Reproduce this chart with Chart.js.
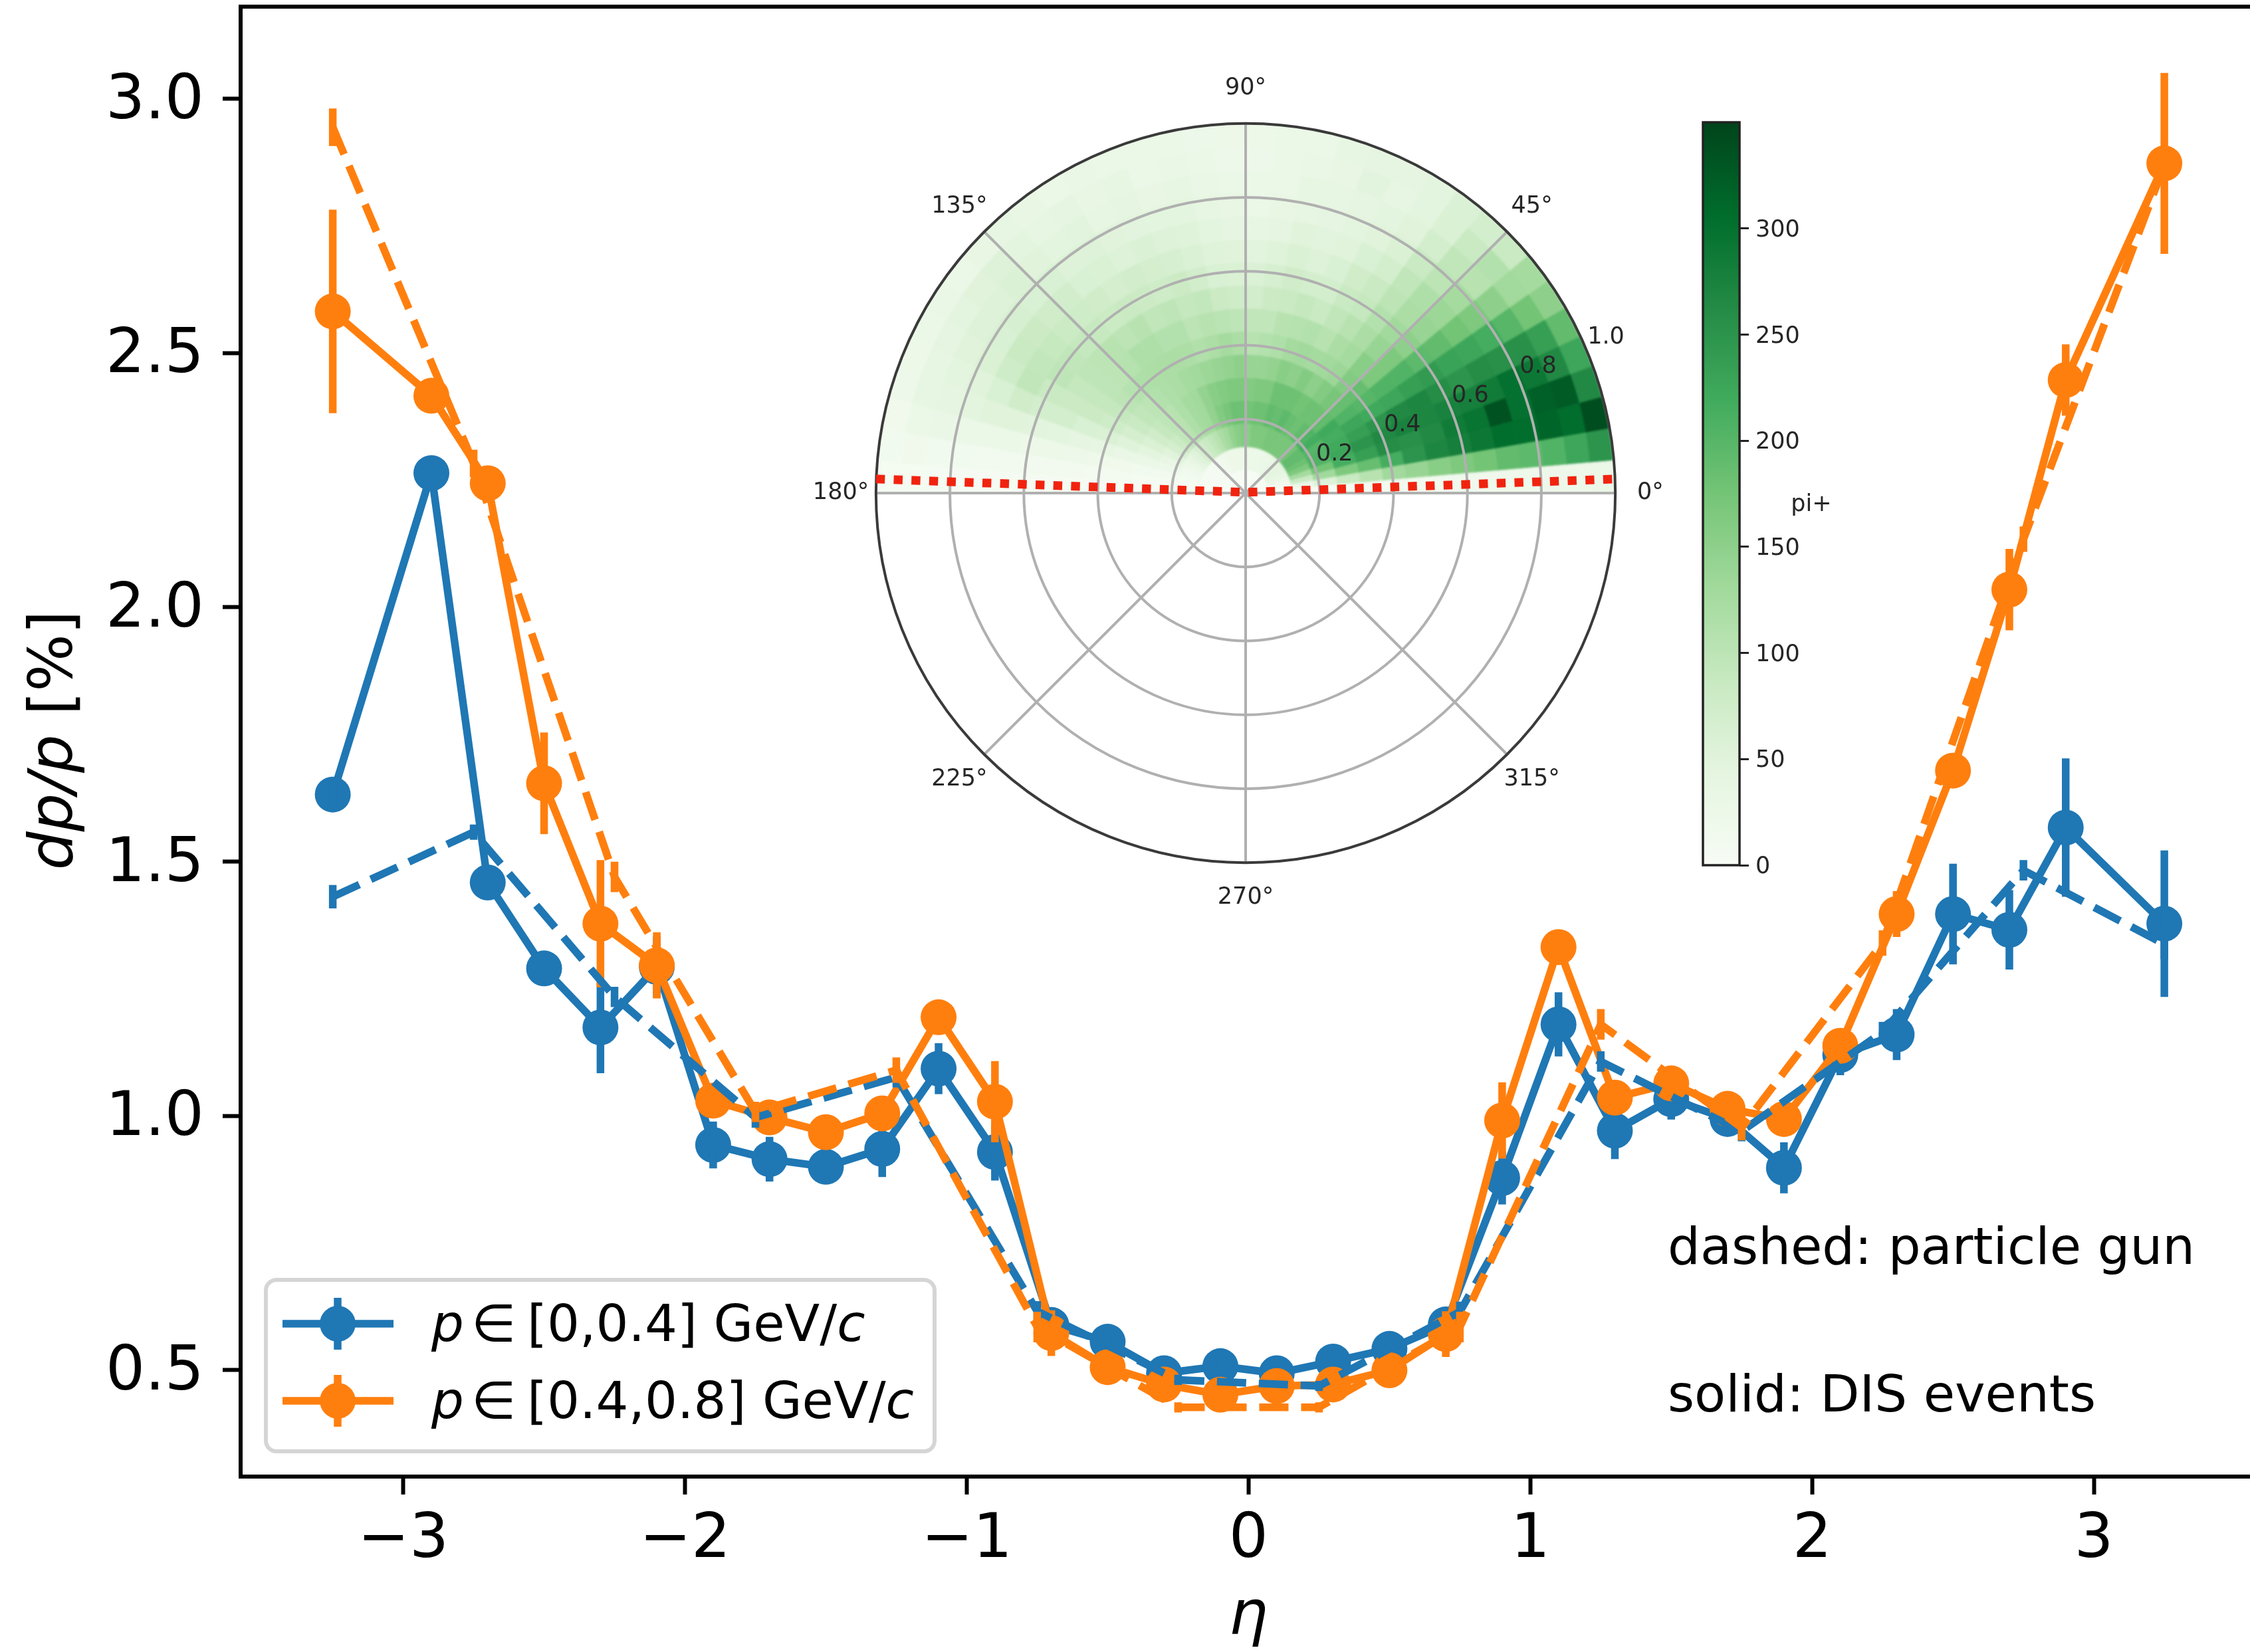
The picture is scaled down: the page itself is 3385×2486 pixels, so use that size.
<!DOCTYPE html>
<html>
<head>
<meta charset="utf-8">
<title>dp/p vs eta</title>
<script src="https://cdn.jsdelivr.net/npm/chart.js@4"></script>
<style>
html,body{margin:0;padding:0;background:#fff;overflow:hidden;width:3385px;height:2486px}
canvas{position:absolute;display:block}
#main{left:0;top:0}
#heat{left:1318px;top:186px;filter:blur(1.5px)}
#polar{left:1151px;top:19px;filter:blur(.7px)}
#cbar{left:2540px;top:160px;filter:blur(.7px)}
</style>
</head>
<body>
<canvas id="main" width="3385" height="2486"></canvas>
<canvas id="heat" width="1112" height="556"></canvas>
<canvas id="polar" width="1446" height="1446"></canvas>
<canvas id="cbar" width="300" height="1170"></canvas>
<script>
// ---------- main plot data ----------
const etaSolid = [-3.25,-2.9,-2.7,-2.5,-2.3,-2.1,-1.9,-1.7,-1.5,-1.3,-1.1,-0.9,-0.7,-0.5,-0.3,-0.1,0.1,0.3,0.5,0.7,0.9,1.1,1.3,1.5,1.7,1.9,2.1,2.3,2.5,2.7,2.9,3.25];
const blueSolid = [1.632,2.264,1.459,1.29,1.174,1.293,0.943,0.915,0.90,0.935,1.093,0.929,0.589,0.556,0.494,0.508,0.494,0.517,0.542,0.59,0.878,1.18,0.971,1.033,0.994,0.898,1.12,1.16,1.397,1.366,1.567,1.378];
const blueSolidErr = [0.03,0.02,0.03,0.03,0.09,0.06,0.046,0.044,0.03,0.055,0.05,0.056,0.03,0.02,0.015,0.015,0.015,0.015,0.02,0.03,0.052,0.063,0.056,0.04,0.03,0.05,0.04,0.05,0.099,0.078,0.136,0.144];
const orangeSolid = [2.582,2.416,2.244,1.654,1.378,1.296,1.03,0.997,0.968,1.005,1.194,1.028,0.573,0.506,0.472,0.452,0.469,0.472,0.50,0.571,0.991,1.332,1.036,1.064,1.014,0.994,1.138,1.397,1.679,2.035,2.447,2.873];
const orangeSolidErr = [0.2,0.02,0.03,0.1,0.125,0.065,0.03,0.03,0.03,0.03,0.03,0.08,0.045,0.02,0.015,0.015,0.015,0.015,0.02,0.045,0.075,0.02,0.03,0.03,0.02,0.02,0.03,0.045,0.03,0.08,0.07,0.178];
const etaDashed = [-3.25,-2.75,-2.25,-1.75,-1.25,-0.75,-0.25,0.25,0.75,1.25,1.75,2.25,2.75,3.25];
const blueDashed = [1.431,1.558,1.234,0.997,1.076,0.616,0.481,0.469,0.615,1.107,0.97,1.165,1.483,1.338];
const blueDashedErr = [0.023,0.015,0.02,0.02,0.02,0.02,0.01,0.01,0.02,0.02,0.02,0.02,0.02,0.03];
const orangeDashed = [2.944,2.283,1.47,1.008,1.09,0.585,0.427,0.427,0.585,1.18,0.977,1.34,2.134,2.87];
const orangeDashedErr = [0.037,0.027,0.03,0.02,0.025,0.03,0.01,0.01,0.03,0.03,0.025,0.025,0.025,0.03];
const xTickValues = [-3,-2,-1,0,1,2,3];
const yTickValues = [0.5,1.0,1.5,2.0,2.5,3.0];

// ---------- inset polar histogram: rows run from the outer ring to the centre,
// each row holds 36 sectors of equal width from 0 deg to 180 deg ----------
const sectorDegrees = 5;
const ringCounts = [
[30,250,340,265,225,190,150,125,85,70,58,45,42,42,40,30,28,25, 24,26,28,28,30,32,30,35,38,35,30,32,28,25,22,18,14,8],
[25,225,305,325,265,235,175,130,110,85,60,45,40,48,35,32,28,22, 22,28,32,28,38,35,42,38,45,55,50,45,42,38,38,28,18,8],
[22,205,315,320,290,255,200,150,105,95,70,50,45,42,40,38,30,28, 28,32,40,35,42,40,48,45,50,58,55,55,50,45,42,32,15,7],
[20,195,305,300,300,255,215,165,125,100,85,60,50,45,42,40,35,30, 35,38,45,45,48,50,55,55,62,62,65,62,60,50,45,30,14,6],
[20,190,305,335,285,260,225,175,135,115,95,70,62,50,48,50,42,38, 42,45,52,55,58,55,60,62,72,75,80,85,78,62,50,30,12,6],
[18,175,290,295,280,250,230,190,140,120,100,85,75,62,55,60,52,48, 50,52,58,65,68,72,68,75,78,82,88,92,95,75,50,28,12,6],
[16,165,280,285,275,260,240,195,150,130,110,90,85,70,70,75,65,58, 60,62,72,80,78,80,85,82,88,90,95,98,85,70,48,25,12,6],
[15,155,270,265,270,270,235,205,165,140,120,105,95,85,90,85,80,72, 78,80,92,90,98,95,105,100,105,100,98,90,80,70,45,25,12,6],
[14,140,250,255,275,265,225,205,165,155,125,120,105,110,108,105,95,95, 98,102,105,100,110,110,115,115,108,100,98,90,80,62,42,22,12,6],
[12,130,215,260,265,250,220,200,185,160,135,130,125,130,125,115,110,105, 120,125,118,112,118,120,120,118,115,108,100,90,78,60,38,20,10,5],
[10,105,185,235,250,235,225,205,185,170,160,150,160,150,155,145,140,140, 150,145,140,135,130,125,120,115,110,100,95,85,68,52,32,18,10,5],
[8,85,165,215,225,220,215,220,190,180,180,175,180,180,180,165,165,160, 165,165,160,155,145,130,125,115,105,98,90,75,60,45,28,15,8,5],
[6,55,130,175,205,205,200,215,205,190,180,185,195,185,190,180,180,175, 180,180,170,160,145,130,125,115,105,95,82,68,50,35,22,12,7,4],
[5,28,80,125,165,180,190,190,175,170,170,170,170,170,165,165,165,155, 160,155,145,130,120,105,95,85,75,65,52,42,30,20,14,8,5,4],
[3,6,12,22,32,38,42,45,42,35,30,28,28,26,26,25,25,25, 25,25,25,25,24,22,18,15,12,10,8,6,5,4,4,3,3,3],
[2,2,3,3,3,3,3,3,3,3,3,3,3,3,3,3,3,3, 3,3,3,3,3,3,3,3,3,3,3,3,3,3,3,2,2,2]
];
const countMax = 350;
const colorbarTicks = [0,50,100,150,200,250,300];
const greens = ['#f7fcf5','#e5f5e0','#c7e9c0','#a1d99b','#74c476','#41ab5d','#238b45','#006d2c','#00441b'];
const radialTicks = [0.2,0.4,0.6,0.8,1.0];
const angleTicks = [0,45,90,135,180,225,270,315];
const guideX = [-1,0,1];
const guideY = [0.038,0.002,0.038];

const FONT = '"DejaVu Sans"';
const BLUE = '#1f77b4', ORANGE = '#ff7f0e';
Chart.defaults.font.family = FONT;
Chart.defaults.animation = false;

// helpers
function points(xs, ys){ return xs.map((x,i)=>({x, y:ys[i]})); }
function errorSegments(xs, ys, es){
  const out = [];
  xs.forEach((x,i)=>{ out.push({x,y:ys[i]-es[i]},{x,y:ys[i]+es[i]},{x,y:null}); });
  return out;
}
function hex(c){ return [1,3,5].map(i=>parseInt(c.substr(i,2),16)); }
function greenColor(v){
  const t = Math.max(0,Math.min(1,v/countMax))*(greens.length-1);
  const i = Math.min(greens.length-2,Math.floor(t)), f = t-i;
  const a = hex(greens[i]), b = hex(greens[i+1]);
  return 'rgb('+a.map((q,k)=>Math.round(q+(b[k]-q)*f)).join(',')+')';
}
function drawRuns(ctx, runs, x, y, size, align){
  let total = 0;
  const fonts = runs.map(r=>(r[1]?'italic ':'')+size+'px '+FONT);
  runs.forEach((r,i)=>{ ctx.font = fonts[i]; total += ctx.measureText(r[0]).width; });
  let cx = align==='center' ? x-total/2 : x;
  ctx.textAlign='left'; ctx.textBaseline='alphabetic'; ctx.fillStyle='#000';
  runs.forEach((r,i)=>{ ctx.font = fonts[i]; ctx.fillText(r[0],cx,y); cx += ctx.measureText(r[0]).width; });
}

// ---------- main chart ----------
let seq = 0;
function lineSet(data, color, dashed, radius){
  seq++;
  return {data, showLine:true, borderColor:color, backgroundColor:color, borderWidth:11.5,
    borderDash: dashed?[44,19]:[], pointRadius:radius, pointBorderWidth:0, pointHoverRadius:radius,
    tension:0, spanGaps:false, order:-seq, borderCapStyle:'butt'};
}
const mainSets = [
  lineSet(points(etaSolid,blueSolid),BLUE,false,27),
  lineSet(errorSegments(etaSolid,blueSolid,blueSolidErr),BLUE,false,0),
  lineSet(points(etaSolid,orangeSolid),ORANGE,false,27),
  lineSet(errorSegments(etaSolid,orangeSolid,orangeSolidErr),ORANGE,false,0),
  lineSet(points(etaDashed,blueDashed),BLUE,true,0),
  lineSet(errorSegments(etaDashed,blueDashed,blueDashedErr),BLUE,false,0),
  lineSet(points(etaDashed,orangeDashed),ORANGE,true,0),
  lineSet(errorSegments(etaDashed,orangeDashed,orangeDashedErr),ORANGE,false,0)
];
const legendRows = [
  {color:BLUE, range:'[0,0.4] GeV/'},
  {color:ORANGE, range:'[0.4,0.8] GeV/'}
];
const mainDecor = {
  id:'mainDecor',
  afterDatasetsDraw(chart){
    const {ctx, chartArea:a} = chart;
    ctx.save();
    // top spine
    ctx.fillStyle='#000'; ctx.fillRect(a.left-3,a.top-3,a.right-a.left+3,6);
    // axis titles
    drawRuns(ctx,[['\u03b7',true]],1878,2459,93,'center');
    ctx.save(); ctx.translate(108,1114); ctx.rotate(-Math.PI/2);
    drawRuns(ctx,[['dp/p',true],[' [%]',false]],0,0,91,'center');
    ctx.restore();
    // notes
    ctx.font='77px '+FONT; ctx.fillStyle='#000'; ctx.textAlign='left'; ctx.textBaseline='alphabetic';
    ctx.fillText('dashed: particle gun',2509,1902);
    ctx.fillText('solid: DIS events',2509,2124);
    // legend
    ctx.lineWidth=6; ctx.strokeStyle='#d5d5d5'; ctx.fillStyle='rgba(255,255,255,.8)';
    ctx.beginPath(); ctx.roundRect(400,1926,1006,258,16); ctx.fill(); ctx.stroke();
    const rowsY=[1992,2108], base=[2018,2134];
    legendRows.forEach((row,i)=>{
      ctx.strokeStyle=row.color; ctx.fillStyle=row.color; ctx.lineWidth=11.5;
      ctx.beginPath(); ctx.moveTo(425,rowsY[i]); ctx.lineTo(592,rowsY[i]); ctx.stroke();
      ctx.beginPath(); ctx.moveTo(508,rowsY[i]-39); ctx.lineTo(508,rowsY[i]+39); ctx.stroke();
      ctx.beginPath(); ctx.arc(508,rowsY[i],27,0,Math.PI*2); ctx.fill();
      drawRuns(ctx,[['p',true]],649,base[i],77,'left');
      drawRuns(ctx,[['\u2208',false]],709,base[i],77,'left');
      drawRuns(ctx,[[row.range,false],['c',true]],793,base[i],77,'left');
    });
    ctx.restore();
  }
};
new Chart(document.getElementById('main'),{
  type:'scatter',
  data:{datasets:mainSets},
  plugins:[mainDecor],
  options:{
    responsive:false, events:[],
    layout:{autoPadding:false,padding:{left:0,right:0,top:10,bottom:0}},
    plugins:{legend:{display:false},tooltip:{enabled:false}},
    scales:{
      x:{type:'linear',min:-3.577,max:3.554,
        afterFit(s){s.height=264;s.paddingLeft=0;s.paddingRight=0;},
        afterBuildTicks(s){s.ticks=xTickValues.map(v=>({value:v}));},
        border:{display:true,color:'#000',width:6},
        grid:{drawOnChartArea:false,drawTicks:true,tickLength:27,tickWidth:6,tickColor:'#000'},
        ticks:{autoSkip:false,maxRotation:0,padding:14,color:'#000',font:{size:93},
          callback:v=>(v<0?'\u2212':'')+Math.abs(v)}},
      y:{type:'linear',min:0.2909,max:3.1812,
        afterFit(s){s.width=362;s.paddingTop=0;s.paddingBottom=0;},
        afterBuildTicks(s){s.ticks=yTickValues.map(v=>({value:v}));},
        border:{display:true,color:'#000',width:6},
        grid:{drawOnChartArea:false,drawTicks:true,tickLength:27,tickWidth:6,tickColor:'#000'},
        ticks:{autoSkip:false,padding:28,labelOffset:5,color:'#000',font:{size:93},
          callback:v=>v.toFixed(1)}}
    }
  }
});

// ---------- inset heat map: one doughnut ring per radial bin ----------
new Chart(document.getElementById('heat'),{
  type:'doughnut',
  data:{
    labels:ringCounts[0].map((_,i)=>String(i)),
    datasets:ringCounts.map(row=>{
      const colors = row.slice().reverse().map(greenColor);
      return {data:row.map(()=>sectorDegrees), backgroundColor:colors, borderColor:colors, borderWidth:1, hoverOffset:0};
    })
  },
  options:{
    responsive:false, events:[], cutout:0, rotation:-90, circumference:180,
    layout:{autoPadding:false,padding:0},
    plugins:{legend:{display:false},tooltip:{enabled:false}}
  }
});

// ---------- inset polar frame ----------
const polarDecor = {
  id:'polarDecor',
  beforeDatasetsDraw(chart){
    const {ctx, scales:{x,y}} = chart;
    const cx=x.getPixelForValue(0), cy=y.getPixelForValue(0), unit=x.getPixelForValue(1)-cx;
    ctx.save();
    ctx.strokeStyle='#b0b0b0'; ctx.lineWidth=4;
    radialTicks.slice(0,-1).forEach(r=>{ctx.beginPath();ctx.arc(cx,cy,r*unit,0,Math.PI*2);ctx.stroke();});
    angleTicks.forEach(d=>{
      const t=d*Math.PI/180;
      ctx.beginPath();ctx.moveTo(cx,cy);ctx.lineTo(x.getPixelForValue(Math.cos(t)),y.getPixelForValue(Math.sin(t)));ctx.stroke();
    });
    ctx.strokeStyle='#3a3a3a'; ctx.lineWidth=4;
    ctx.beginPath();ctx.arc(cx,cy,unit,0,Math.PI*2);ctx.stroke();
    ctx.fillStyle='#262626'; ctx.font='35px '+FONT; ctx.textAlign='center'; ctx.textBaseline='middle';
    angleTicks.forEach(d=>{
      const t=d*Math.PI/180;
      ctx.fillText(d+'\u00b0',x.getPixelForValue(1.095*Math.cos(t)),y.getPixelForValue(1.095*Math.sin(t)));
    });
    const lt=23.4*Math.PI/180;
    radialTicks.forEach(r=>{
      ctx.fillText(r.toFixed(1),x.getPixelForValue((r+0.062)*Math.cos(lt)),y.getPixelForValue((r+0.062)*Math.sin(lt)));
    });
    ctx.restore();
  }
};
new Chart(document.getElementById('polar'),{
  type:'scatter',
  data:{datasets:[{data:points(guideX,guideY),showLine:true,borderColor:'#f0230f',borderWidth:13,
    borderDash:[13.4,13.3],pointRadius:0,tension:0,borderCapStyle:'butt'}]},
  plugins:[polarDecor],
  options:{
    responsive:false, events:[], layout:{autoPadding:false,padding:0},
    plugins:{legend:{display:false},tooltip:{enabled:false}},
    scales:{
      x:{type:'linear',min:-1.3,max:1.3,display:false},
      y:{type:'linear',min:-1.3,max:1.3,display:false}
    }
  }
});

// ---------- colour bar ----------
const cbarDecor = {
  id:'cbarDecor',
  afterDatasetsDraw(chart){
    const {ctx, chartArea:a} = chart;
    ctx.save();
    ctx.strokeStyle='#222'; ctx.lineWidth=3.5;
    ctx.strokeRect(a.left,a.top,a.right-a.left,a.bottom-a.top);
    ctx.fillStyle='#262626'; ctx.font='35px '+FONT; ctx.textAlign='center'; ctx.textBaseline='middle';
    ctx.fillText('pi+',a.right+108,(a.top+a.bottom)/2+17);
    ctx.restore();
  }
};
new Chart(document.getElementById('cbar'),{
  type:'bar',
  data:{labels:['pi+'],datasets:[{data:[countMax],barPercentage:1,categoryPercentage:1,borderWidth:0,
    backgroundColor(c){
      const a=c.chart.chartArea; if(!a) return greens[4];
      const g=c.chart.ctx.createLinearGradient(0,a.bottom,0,a.top);
      greens.forEach((col,i)=>g.addColorStop(i/(greens.length-1),col));
      return g;
    }}]},
  plugins:[cbarDecor],
  options:{
    responsive:false, events:[],
    layout:{autoPadding:false,padding:{left:22,right:0,top:24,bottom:28}},
    plugins:{legend:{display:false},tooltip:{enabled:false}},
    scales:{
      x:{display:false},
      y:{position:'right',min:0,max:countMax,
        afterFit(s){s.width=223;s.paddingTop=0;s.paddingBottom=0;},
        afterBuildTicks(s){s.ticks=colorbarTicks.map(v=>({value:v}));},
        border:{display:false},
        grid:{drawOnChartArea:false,drawTicks:true,tickLength:14,tickWidth:3,tickColor:'#222'},
        ticks:{autoSkip:false,padding:10,labelOffset:3,color:'#262626',font:{size:35}}}
    }
  }
});
</script>
</body>
</html>
